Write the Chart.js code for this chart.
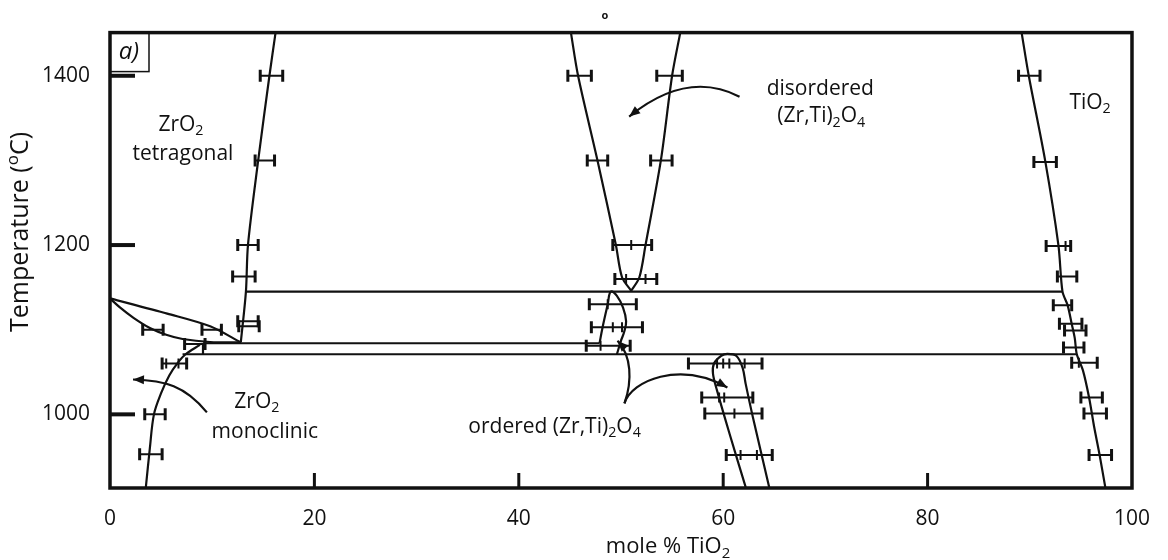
<!DOCTYPE html>
<html><head><meta charset="utf-8">
<script src="https://cdn.jsdelivr.net/npm/chart.js@4.4.1/dist/chart.umd.min.js"></script>
<style>html,body{margin:0;padding:0;background:#fff}#wrap{width:1168px;height:560px;position:relative}</style>
</head><body><div id="wrap"><canvas id="c"></canvas></div>
<script>
// ---------------- data ----------------
const xTicks = [0, 20, 40, 60, 80, 100];
const yTicks = [1000, 1200, 1400];
const xInnerTicks = [20, 40, 60, 80];
const xRange = [0, 100];
const yRange = [913, 1451];

// phase boundaries, [mole % TiO2, temperature]
const tetragonalEdge = [[16.2,1451],[15.6,1400],[14.5,1300],[13.5,1200],[13.3,1145],[12.8,1085]];
const lensUpper = [[0,1137],[5.6,1119],[9.8,1104],[12.8,1085]];
const lensLower = [[0,1137],[1.0,1126],[2.3,1114],[3.9,1102],[5.5,1094],[7.1,1089],[9.8,1085.5],[12.8,1085]];
const monoclinicEdge = [[3.5,913],[3.9,960],[4.3,1000],[5.0,1025],[5.8,1046],[6.7,1062],[7.4,1071],[8.8,1082]];
const disorderedLeft = [[45.1,1451],[45.8,1400],[47.7,1300],[49.5,1200],[50.1,1162],[51.0,1146]];
const disorderedRight = [[55.8,1451],[55.0,1400],[53.9,1300],[52.4,1200],[51.8,1162],[51.0,1146]];
const orderedLoop = [[47.9,1084],[48.2,1103],[48.7,1130],[49.0,1145],[49.6,1140],[50.2,1126],[50.5,1110],[50.3,1097],[50.0,1087],[49.6,1071]];
const orderedLow = [[62.2,914],[60.6,978],[59.4,1028],[59.0,1048],[59.1,1060],[59.8,1069],[60.4,1071.5],[61.3,1069],[61.9,1055],[62.2,1036],[62.9,997],[64.5,914]];
const rutileEdge = [[89.2,1451],[89.9,1400],[91.5,1300],[92.8,1200],[93.2,1145],[93.7,1129],[94.1,1107],[94.4,1090],[94.6,1071],[95.2,1052],[95.8,1020],[96.3,985],[96.8,954],[97.4,913]];
// tie lines (isotherms)
const tieLine1145 = [[13.3,1145],[93.2,1145]];
const tieLine1084 = [[9.1,1084],[47.9,1084]];
const tieLine1071 = [[7.1,1071],[94.6,1071]];
const tieLine1071Left = [[9.1,1071],[9.1,1084]];

// measurement error bars
const errY  = [1400,1300,1200,1163,1110,1104, 1100,1100,1083,1060,1000,953, 1400,1400,1300,1300,1200,1160,1130,1103,1081, 1060,1020,1001,952, 1400,1298,1199,1163,1129,1107,1099,1079,1061,1020,1001,952];
const errLo = [14.7,14.2,12.5,12.0,12.5,12.6, 3.2,9.0,7.3,5.1,3.4,2.9, 44.8,53.5,46.7,52.9,49.2,49.4,46.9,47.1,46.6, 56.6,57.9,58.2,60.3, 88.9,90.4,91.6,92.7,92.3,92.9,93.4,93.3,94.1,95.0,95.3,95.8];
const errHi = [16.9,16.1,14.5,14.2,14.5,14.6, 5.2,10.9,9.3,7.5,5.4,5.1, 47.1,56.0,48.7,55.0,53.0,53.5,51.5,52.1,50.9, 63.8,62.9,63.8,64.8, 91.0,92.6,94.0,94.6,94.1,95.1,95.5,95.3,96.6,97.1,97.5,98.0];
// inner ticks on overlapping error bars
const midTickX = [5.5,6.7, 51.0,50.5,52.4,48.7,49.2,50.1,48.0, 59.4,60.0,60.6,62.1, 59.6,60.1, 61.1, 61.7,63.3, 93.5,94.8];
const midTickY = [1060,1060, 1200,1160,1160,1130,1103,1103,1081, 1060,1060,1060,1060, 1020,1020, 1001, 952,952, 1199,1061];

// ---------------- annotations (layout) ----------------
const FONT = "'Open Sans', 'Noto Sans', sans-serif";
const labels = [
  {parts:[['ZrO',0],['2',1]], x:6.94, y:1342, size:21},
  {parts:[['tetragonal',0]], x:7.14, y:1308, size:21},
  {parts:[['ZrO',0],['2',1]], x:14.37, y:1015, size:21},
  {parts:[['monoclinic',0]], x:15.15, y:979, size:21},
  {parts:[['disordered',0]], x:69.5, y:1384, size:21},
  {parts:[['(Zr,Ti)',0],['2',1],['O',0],['4',1]], x:69.6, y:1352, size:21},
  {parts:[['ordered (Zr,Ti)',0],['2',1],['O',0],['4',1]], x:43.5, y:985, size:21},
  {parts:[['TiO',0],['2',1]], x:95.9, y:1368, size:21}
];
// cubic arrows [p0, c1, c2, p3] in data units
const arrows = [
  [[61.6,1375.3],[58.6,1394],[55.0,1393],[50.8,1351.8]],
  [[9.48,1002.4],[7.33,1034.1],[5.38,1040],[2.25,1041.2]],
  [[50.34,1012.9],[51.12,1040],[51.03,1069.4],[49.66,1087.1]],
  [[50.34,1012.9],[51.03,1040],[55.72,1063.5],[60.41,1031.8]]
];

// ---------------- build datasets ----------------
const pts = a => a.map(p => ({x:p[0], y:p[1]}));
const curve = (a, t) => ({type:'scatter', data:pts(a), showLine:true, borderColor:'#111', borderWidth:2.2, pointRadius:0, tension:t, fill:false});
const datasets = [
  curve(tetragonalEdge,0.3), curve(lensUpper,0.3), curve(lensLower,0.35), curve(monoclinicEdge,0.35),
  curve(disorderedLeft,0.3), curve(disorderedRight,0.3), curve(orderedLoop,0.4), curve(orderedLow,0.35),
  curve(rutileEdge,0.3), curve(tieLine1145,0), curve(tieLine1084,0), curve(tieLine1071,0), curve(tieLine1071Left,0)
];
errY.forEach((y,i) => datasets.push({
  type:'scatter', data:[{x:errLo[i],y},{x:errHi[i],y}], showLine:true, borderColor:'#111', borderWidth:2,
  pointStyle:'line', pointRotation:90, pointRadius:6, pointBorderWidth:3, pointBorderColor:'#111', tension:0
}));
datasets.push({type:'scatter', data:midTickX.map((x,i)=>({x, y:midTickY[i]})), showLine:false,
  pointStyle:'line', pointRotation:90, pointRadius:5, pointBorderWidth:2, pointBorderColor:'#111'});

// ---------------- drawing helpers ----------------
function richWidth(ctx, parts, size){
  let w = 0;
  parts.forEach(([t,m]) => { ctx.font = (m ? size*0.68 : size) + 'px ' + FONT; w += ctx.measureText(t).width; });
  return w;
}
function richText(ctx, parts, x, y, size){
  const w = richWidth(ctx, parts, size);
  let cx = x - w/2;
  ctx.textBaseline = 'middle'; ctx.textAlign = 'left'; ctx.fillStyle = '#111';
  parts.forEach(([t,m]) => {
    ctx.font = (m ? size*0.68 : size) + 'px ' + FONT;
    const dy = m === 1 ? size*0.30 : (m === 2 ? -size*0.30 : 0);
    ctx.fillText(t, cx, y + dy);
    cx += ctx.measureText(t).width;
  });
}
function arrowHead(ctx, x, y, fx, fy){
  const ang = Math.atan2(y - fy, x - fx), L = 11, W = 4.5;
  ctx.beginPath();
  ctx.moveTo(x, y);
  ctx.lineTo(x - L*Math.cos(ang) + W*Math.sin(ang), y - L*Math.sin(ang) - W*Math.cos(ang));
  ctx.lineTo(x - L*Math.cos(ang) - W*Math.sin(ang), y - L*Math.sin(ang) + W*Math.cos(ang));
  ctx.closePath(); ctx.fill();
}

const decor = {
  id:'decor',
  afterDraw(chart){
    const {ctx, chartArea:a, scales:{x:sx, y:sy}} = chart;
    const P = p => [sx.getPixelForValue(p[0]), sy.getPixelForValue(p[1])];
    ctx.save();
    ctx.strokeStyle = '#111'; ctx.fillStyle = '#111';
    // frame
    ctx.lineWidth = 3.5;
    ctx.strokeRect(a.left, a.top, a.right - a.left, a.bottom - a.top);
    // inward ticks
    ctx.lineWidth = 4;
    sy.ticks.forEach(t => { const py = sy.getPixelForValue(t.value); ctx.beginPath(); ctx.moveTo(a.left, py); ctx.lineTo(a.left + 25, py); ctx.stroke(); });
    ctx.lineWidth = 3;
    xInnerTicks.forEach(v => { const px = sx.getPixelForValue(v); ctx.beginPath(); ctx.moveTo(px, a.bottom); ctx.lineTo(px, a.bottom - 15); ctx.stroke(); });
    // arrows
    ctx.lineWidth = 2.2;
    arrows.forEach(ar => {
      const [p0,c1,c2,p3] = ar.map(P);
      ctx.beginPath(); ctx.moveTo(p0[0],p0[1]); ctx.bezierCurveTo(c1[0],c1[1],c2[0],c2[1],p3[0]-0,p3[1]); ctx.stroke();
      arrowHead(ctx, p3[0], p3[1], c2[0], c2[1]);
    });
    // labels
    labels.forEach(l => { const [px,py] = P([l.x,l.y]); richText(ctx, l.parts, px, py, l.size); });
    // panel tag
    ctx.lineWidth = 1.5;
    ctx.strokeRect(a.left, a.top, 39, 39);
    ctx.font = 'italic 24px ' + FONT; ctx.textAlign = 'center'; ctx.textBaseline = 'middle';
    ctx.fillText('a)', a.left + 19, a.top + 20);
    ctx.font = 'bold 11px ' + FONT;
    ctx.fillText('o', 605, 16);
    // axis titles
    richText(ctx, [['mole % TiO',0],['2',1]], 668, 547, 22);
    ctx.translate(21, 232); ctx.rotate(-Math.PI/2);
    richText(ctx, [['Temperature (',0],['o',2],['C)',0]], 0, 0, 25);
    ctx.restore();
  }
};

new Chart(document.getElementById('c'), {
  type:'scatter',
  data:{datasets},
  options:{
    responsive:true, maintainAspectRatio:false, animation:false,
    layout:{padding:{left:0, top:31, right:35, bottom:0}},
    plugins:{legend:{display:false}, tooltip:{enabled:false}},
    scales:{
      x:{type:'linear', min:xRange[0], max:xRange[1], grid:{display:false, drawTicks:false}, border:{display:false},
         afterBuildTicks:s => { s.ticks = xTicks.map(v => ({value:v})); },
         afterFit:s => { s.height = 72; },
         ticks:{color:'#111', font:{family:FONT, size:21}, padding:18, maxRotation:0, callback:v => String(v)}},
      y:{type:'linear', min:yRange[0], max:yRange[1], grid:{display:false, drawTicks:false}, border:{display:false},
         afterBuildTicks:s => { s.ticks = yTicks.map(v => ({value:v})); },
         afterFit:s => { s.width = 110; },
         ticks:{color:'#111', font:{family:FONT, size:21}, padding:20, callback:v => String(v)}}
    }
  },
  plugins:[decor]
});
</script></body></html>
